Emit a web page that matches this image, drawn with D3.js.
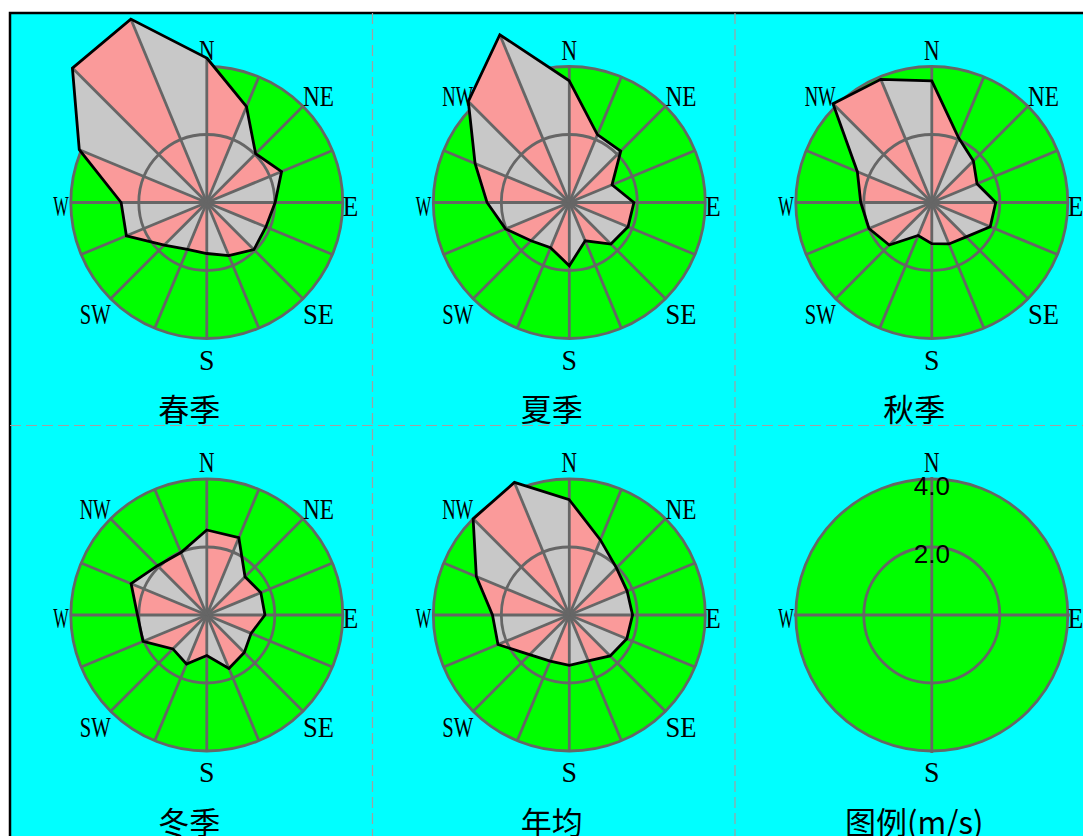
<!DOCTYPE html>
<html><head><meta charset="utf-8">
<script src="https://cdn.jsdelivr.net/npm/d3@7"></script>
<style>html,body{margin:0;padding:0;background:#fff;overflow:hidden}</style>
</head><body>
<svg id="chart" width="1083" height="836"></svg>
<script>
// ---- data ----
const directions = ["N","NNE","NE","ENE","E","ESE","SE","SSE","S","SSW","SW","WSW","W","WNW","NW","NNW"];
const labelDirs = ["N","NE","E","SE","S","SW","W","NW"];
const legendDirs = ["N","E","S","W"];
const panelTitles = ["春季","夏季","秋季","冬季","年均"];
const legendTitle = "图例(m/s)";
const ringTicks = [2.0, 4.0];
const ringTickLabels = ["2.0","4.0"];
const spring = [4.25,3.05,2.03,2.38,2.01,1.88,1.96,1.69,1.50,1.49,1.77,2.56,2.52,4.06,5.59,5.84];
const summer = [3.58,2.16,2.14,1.36,1.90,1.87,1.73,1.22,1.86,1.44,1.59,2.03,2.42,3.00,4.20,5.34];
const autumn = [3.58,2.06,1.73,1.44,1.88,1.86,1.43,1.32,1.21,1.05,1.77,2.00,2.09,2.37,4.11,3.92];
const winter = [2.50,2.46,1.59,1.72,1.71,1.41,1.56,1.70,1.19,1.56,1.41,2.03,2.04,2.41,2.05,1.99];
const annual = [3.39,2.39,1.96,1.84,1.86,1.83,1.70,1.46,1.48,1.47,1.65,2.27,2.26,2.96,4.00,4.22];
const seriesList = [spring, summer, autumn, winter, annual];

// ---- layout ----
const svg = d3.select("#chart");
const ox = 10, oy = 13, pw = 362.5, ph = 412.5;
const R = 136;
const rScale = d3.scaleLinear().domain([0, 4]).range([0, R]);
const angle = d3.scalePoint().domain(directions).range([0, 2 * Math.PI * 15 / 16]);
const GRID = "#666666", PINK = "#FA9A9A", GRAY = "#C8C8C8", GREEN = "#00FF00";
const LW = 2.8;

svg.append("rect").attr("x", ox).attr("y", oy).attr("width", pw * 3).attr("height", ph * 2)
  .attr("fill", "#00FFFF").attr("stroke", "#000").attr("stroke-width", 2.5);
[1, 2].forEach(k => svg.append("line").attr("x1", ox + k * pw).attr("x2", ox + k * pw)
  .attr("y1", oy).attr("y2", oy + 2 * ph).attr("stroke", "#A0A0A0").attr("stroke-width", 1.2)
  .attr("stroke-dasharray", "11,5"));
svg.append("line").attr("x1", ox).attr("x2", ox + 3 * pw).attr("y1", oy + ph).attr("y2", oy + ph)
  .attr("stroke", "#A0A0A0").attr("stroke-width", 1.2).attr("stroke-dasharray", "11,5");

function addDirLabels(g, dirs) {
  dirs.forEach(d => {
    const a = angle(d), s = Math.sin(a), c = Math.cos(a);
    const px = R * s, py = -R * c;
    let anchor, x, y;
    if (Math.abs(s) < 0.1) { anchor = "middle"; x = 0; }
    else if (s > 0) { anchor = "start"; x = px; }
    else { anchor = "end"; x = px - (Math.abs(c) < 0.1 ? 2 : 0); }
    if (c > 0.9) y = py - 7;
    else if (c < -0.9) y = py + 31;
    else if (Math.abs(c) < 0.1) y = 13;
    else if (c > 0) y = py;
    else y = py + 25.5;
    g.append("text").attr("x", x).attr("y", y).attr("text-anchor", anchor)
      .attr("font-family", "Liberation Serif, serif").attr("font-size", 30).attr("fill", "#000")
      .attr("textLength", 15.5 * d.length).attr("lengthAdjust", "spacingAndGlyphs").text(d);
  });
}

function panelOrigin(i) {
  const col = i % 3, row = Math.floor(i / 3);
  return [ox + col * pw, oy + row * ph];
}

function addTitle(i, t) {
  const [x0, y0] = panelOrigin(i);
  svg.append("text").attr("x", x0 + pw / 2 - 2).attr("y", y0 + 408).attr("text-anchor", "middle")
    .attr("font-family", "Noto Sans CJK SC, sans-serif").attr("font-size", 31).attr("fill", "#000").text(t);
}

seriesList.forEach((vals, i) => {
  const [x0, y0] = panelOrigin(i);
  const g = svg.append("g").attr("transform", `translate(${x0 + 196.8},${y0 + 189.5})`);
  g.append("circle").attr("r", rScale(4)).attr("fill", GREEN).attr("stroke", GRID).attr("stroke-width", LW);
  addDirLabels(g, labelDirs);
  const data = directions.map((d, k) => ({ d, v: vals[k], a: angle(d) }));
  // alternating triangles
  g.selectAll("path.tri").data(data).join("path").attr("class", "tri")
    .attr("d", (p, k) => {
      const q = data[(k + 1) % data.length];
      const p1 = d3.pointRadial(p.a, rScale(p.v)), p2 = d3.pointRadial(q.a, rScale(q.v));
      return `M0,0L${p1[0]},${p1[1]}L${p2[0]},${p2[1]}Z`;
    })
    .attr("fill", (p, k) => k % 2 === 0 ? PINK : GRAY);
  // radial grid lines
  g.selectAll("line.ray").data(data).join("line").attr("class", "ray")
    .attr("x1", 0).attr("y1", 0)
    .attr("x2", p => d3.pointRadial(p.a, Math.max(R, rScale(p.v)))[0])
    .attr("y2", p => d3.pointRadial(p.a, Math.max(R, rScale(p.v)))[1])
    .attr("stroke", GRID).attr("stroke-width", LW);
  g.append("circle").attr("r", rScale(ringTicks[0])).attr("fill", "none").attr("stroke", GRID).attr("stroke-width", LW);
  const outline = d3.lineRadial().angle(p => p.a).radius(p => rScale(p.v)).curve(d3.curveLinearClosed);
  g.append("path").attr("d", outline(data)).attr("fill", "none").attr("stroke", "#000")
    .attr("stroke-width", 2.8).attr("stroke-linejoin", "miter");
  addTitle(i, panelTitles[i]);
});

// legend panel
(function () {
  const [x0, y0] = panelOrigin(5);
  const g = svg.append("g").attr("transform", `translate(${x0 + 196.8},${y0 + 189.5})`);
  g.append("circle").attr("r", rScale(4)).attr("fill", GREEN).attr("stroke", GRID).attr("stroke-width", LW);
  g.selectAll("line.ray").data(legendDirs).join("line").attr("class", "ray")
    .attr("x1", 0).attr("y1", 0)
    .attr("x2", d => d3.pointRadial(angle(d), R + 2)[0])
    .attr("y2", d => d3.pointRadial(angle(d), R + 2)[1])
    .attr("stroke", GRID).attr("stroke-width", LW);
  g.append("circle").attr("r", rScale(ringTicks[0])).attr("fill", "none").attr("stroke", GRID).attr("stroke-width", LW);
  addDirLabels(g, legendDirs);
  ringTicks.forEach((t, k) => {
    g.append("text").attr("x", 0).attr("y", -rScale(t) + 16).attr("text-anchor", "middle")
      .attr("font-family", "Liberation Sans, Arial, sans-serif").attr("font-size", 26)
      .attr("fill", "#000").text(ringTickLabels[k]);
  });
  addTitle(5, legendTitle);
})();
</script>
</body></html>
